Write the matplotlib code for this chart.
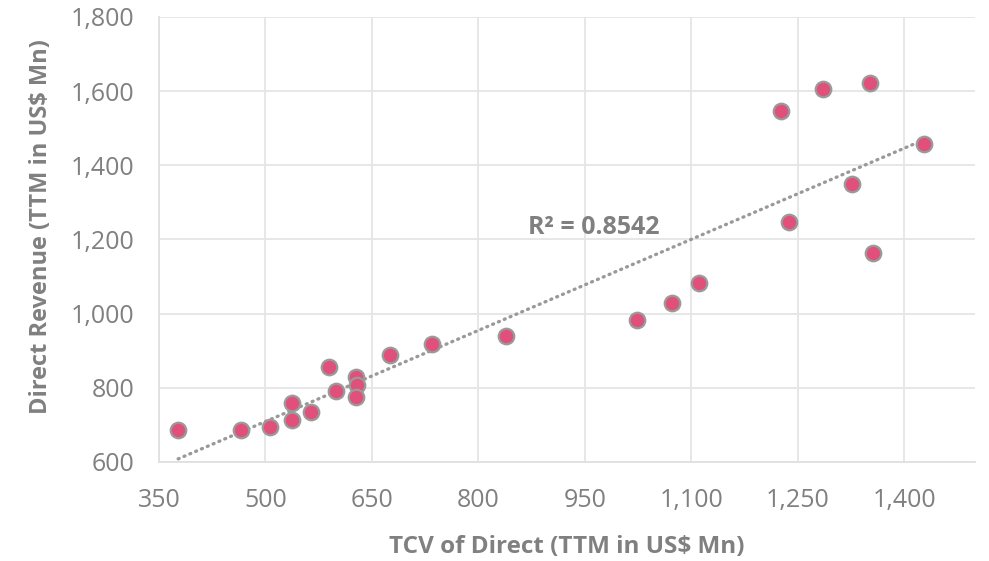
import matplotlib
matplotlib.use("Agg")
import matplotlib.pyplot as plt
from matplotlib.ticker import FuncFormatter, FixedLocator
import numpy as np

# TCV of Direct vs Direct Revenue (TTM, US$ Mn)
tcv = [377, 466, 506, 537, 538, 564, 589, 600, 628, 629, 628, 675, 735, 839,
       1024, 1073, 1111, 1226, 1238, 1286, 1326, 1352, 1356, 1428]
revenue = [686, 686, 695, 758, 713, 734, 855, 792, 830, 808, 776, 889, 918, 940,
           983, 1030, 1082, 1546, 1248, 1605, 1350, 1622, 1163, 1457]
x_ticks = [350, 500, 650, 800, 950, 1100, 1250, 1400]
y_ticks = [600, 800, 1000, 1200, 1400, 1600, 1800]
r2_label = "R² = 0.8542"

grey = "#808080"
plt.rcParams["font.family"] = ["Open Sans", "DejaVu Sans"]

fig = plt.figure(figsize=(9.89, 5.61), dpi=100)
ax = fig.add_axes([0.1608, 0.1765, 0.825, 0.7932])

# linear trendline
x = np.array(tcv, dtype=float)
y = np.array(revenue, dtype=float)
slope, icpt = np.polyfit(x, y, 1)
xs = np.array([x.min(), x.max()])
ax.plot(xs, slope * xs + icpt, color="#999999", lw=2.4, ls=(0, (0.3, 1.6)),
        dash_capstyle="round", zorder=3)

ax.scatter(tcv, revenue, s=125, color="#E0507A", edgecolor="#9a9a9a",
           linewidth=1.6, zorder=4)

ax.text(963, 1232, r2_label, fontsize=18, fontweight="bold", color=grey,
        ha="center", va="center", zorder=5)

ax.set_xlim(350, 1500)
ax.set_ylim(600, 1800)
ax.xaxis.set_major_locator(FixedLocator(x_ticks))
ax.yaxis.set_major_locator(FixedLocator(y_ticks))
fmt = FuncFormatter(lambda v, p: f"{v:,.0f}")
ax.xaxis.set_major_formatter(fmt)
ax.yaxis.set_major_formatter(fmt)

ax.grid(True, color="#e5e5e5", lw=1.3, zorder=0)
ax.set_axisbelow(True)
for s in ["top", "right"]:
    ax.spines[s].set_visible(False)
for s in ["left", "bottom"]:
    ax.spines[s].set_color("#e0e0e0")
    ax.spines[s].set_linewidth(1.3)

ax.tick_params(length=0, labelsize=18, labelcolor=grey)
ax.tick_params(axis="y", pad=18)
ax.tick_params(axis="x", pad=19)

ax.set_xlabel("TCV of Direct (TTM in US$ Mn)", fontsize=17.5, fontweight="bold",
              color=grey)
ax.set_ylabel("Direct Revenue (TTM in US$ Mn)", fontsize=17, fontweight="bold",
              color=grey)
ax.xaxis.set_label_coords(0.5, -0.165)
ax.yaxis.set_label_coords(-0.13, 0.53)

fig.savefig("out.png", dpi=100)
